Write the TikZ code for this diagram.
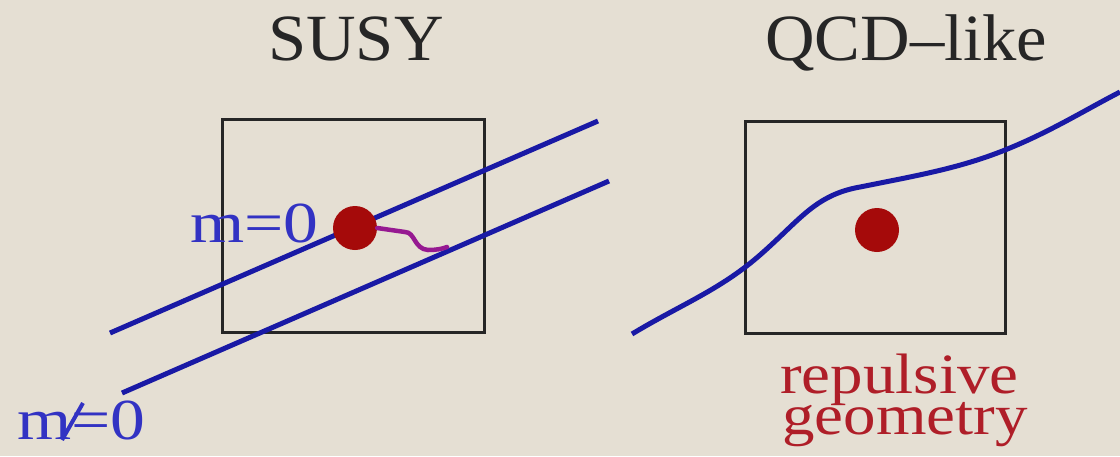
\documentclass[tikz,border=0pt]{standalone}
\usepackage{fontspec}
\setmainfont{Liberation Serif}
\definecolor{bg}{RGB}{229,223,211}
\definecolor{lineblue}{RGB}{25,25,165}
\definecolor{textblue}{RGB}{50,50,195}
\definecolor{dotred}{RGB}{165,10,10}
\definecolor{textred}{RGB}{175,30,40}
\definecolor{wavemag}{RGB}{150,25,145}
\tikzset{
  frame/.style={draw=black!85, line width=3pt},
  string/.style={draw=lineblue, line width=5pt},
  dot/.style={circle, fill=dotred, inner sep=0pt, minimum size=44pt},
  title/.style={anchor=base west, inner sep=0pt, font=\fontsize{66}{66}\selectfont, text=black!85, xscale=1.04},
  lab/.style={anchor=base west, inner sep=0pt, font=\fontsize{58}{58}\selectfont, text=textblue, xscale=1.2},
  note/.style={anchor=base west, inner sep=0pt, font=\fontsize{57}{57}\selectfont, text=textred, xscale=1.14},
}
\begin{document}
\begin{tikzpicture}[x=1pt,y=-1pt]
\fill[bg] (0,0) rectangle (1120,456);
\useasboundingbox (0,0) rectangle (1120,456);
% titles
\node[title] (susy) at (268,60) {SUSY};
\node[title] (qcd) at (765,60) {QCD\textendash like};
% boxes
\draw[frame] (222,119) rectangle (484,332);
\draw[frame] (745,121) rectangle (1005,333);
% left strings
\coordinate (a1) at (110,333);
\coordinate (a2) at (598,121);
\coordinate (b1) at (122,393);
\coordinate (b2) at (609,181);
\draw[string] (a1) -- (a2);
\draw[string] (b1) -- (b2);
% labels
\node[lab] (m0) at (190,242) {m=0};
\node[lab] (mn0) at (17,439) {m=0};
\coordinate (s1) at (83,403);
\coordinate (s2) at (62,440);
\draw[draw=textblue, line width=4pt] (s1) -- (s2);
% left dot and wave
\node[dot] (d1) at (355,228) {};
\coordinate (w1) at (447,247);
\draw[draw=wavemag, line width=4.5pt, line cap=round] (d1.east) -- (405,232) .. controls (415,232) and (414,249) .. (428,250) .. controls (436,250) and (442,249) .. (w1);
% right string
\coordinate (c1) at (632,334);
\coordinate (c2) at (1120,92);
\draw[string] (c1) .. controls (680,305) and (720,290) .. (760,255)
  .. controls (800,220) and (815,195) .. (860,187)
  .. controls (920,175) and (960,168) .. (1005,150)
  .. controls (1050,132) and (1085,110) .. (c2);
\node[dot] (d2) at (877,230) {};
% note
\node[note] (rep) at (780,393) {repulsive};
\node[note] (geo) at (782,434) {geometry};
\end{tikzpicture}
\end{document}
